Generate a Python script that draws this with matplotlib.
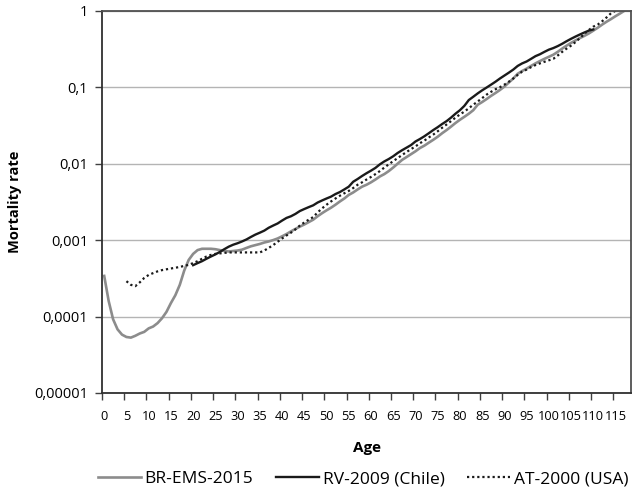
import numpy as np
import matplotlib
matplotlib.use("Agg")
import matplotlib.pyplot as plt
from matplotlib.ticker import FixedLocator, NullLocator

plt.rcParams["font.family"] = ["Open Sans", "DejaVu Sans"]

# BR-EMS-2015 (grey), ages 0..117
br_ages = list(range(0, 118))
br_q = [3.4e-4, 1.6e-4, 9.2e-5, 6.8e-5, 5.8e-5, 5.4e-5, 5.3e-5, 5.6e-5, 6.0e-5, 6.3e-5,
        7.0e-5, 7.4e-5, 8.2e-5, 9.5e-5, 1.15e-4, 1.5e-4, 1.9e-4, 2.6e-4, 4.0e-4, 5.5e-4,
        6.6e-4, 7.4e-4, 7.7e-4, 7.7e-4, 7.7e-4, 7.6e-4, 7.4e-4, 7.2e-4, 7.1e-4, 7.2e-4,
        7.3e-4, 7.5e-4, 7.9e-4, 8.3e-4, 8.6e-4, 8.9e-4, 9.3e-4, 9.6e-4, 1.0e-3, 1.05e-3,
        1.12e-3, 1.2e-3, 1.3e-3, 1.4e-3, 1.5e-3, 1.6e-3, 1.72e-3, 1.85e-3, 2.05e-3, 2.25e-3,
        2.45e-3, 2.65e-3, 2.9e-3, 3.2e-3, 3.5e-3, 3.9e-3, 4.2e-3, 4.6e-3, 5.0e-3, 5.3e-3,
        5.7e-3, 6.2e-3, 6.8e-3, 7.3e-3, 8.0e-3, 8.9e-3, 1.0e-2, 1.12e-2, 1.22e-2, 1.33e-2,
        1.45e-2, 1.6e-2, 1.72e-2, 1.88e-2, 2.05e-2, 2.25e-2, 2.5e-2, 2.75e-2, 3.05e-2, 3.4e-2,
        3.75e-2, 4.1e-2, 4.5e-2, 5.0e-2, 5.9e-2, 6.4e-2, 7.0e-2, 7.7e-2, 8.4e-2, 9.2e-2,
        0.102, 0.115, 0.13, 0.15, 0.163, 0.175, 0.19, 0.205, 0.22, 0.235,
        0.25, 0.266, 0.29, 0.32, 0.35, 0.38, 0.41, 0.44, 0.47, 0.505,
        0.55, 0.6, 0.66, 0.72, 0.78, 0.85, 0.92, 1.0]

# RV-2009 Chile (black), ages 20..110
rv_ages = list(range(20, 111))
rv_q = [4.7e-4, 5.0e-4, 5.3e-4, 5.7e-4, 6.1e-4, 6.5e-4, 7.0e-4, 7.6e-4, 8.2e-4, 8.7e-4,
        9.1e-4, 9.6e-4, 1.02e-3, 1.1e-3, 1.18e-3, 1.25e-3, 1.33e-3, 1.45e-3, 1.55e-3, 1.65e-3,
        1.8e-3, 1.95e-3, 2.05e-3, 2.2e-3, 2.4e-3, 2.55e-3, 2.7e-3, 2.85e-3, 3.1e-3, 3.3e-3,
        3.5e-3, 3.7e-3, 4.0e-3, 4.25e-3, 4.6e-3, 5.0e-3, 5.8e-3, 6.3e-3, 6.9e-3, 7.5e-3,
        8.1e-3, 8.8e-3, 9.8e-3, 1.07e-2, 1.15e-2, 1.25e-2, 1.38e-2, 1.5e-2, 1.62e-2, 1.75e-2,
        1.95e-2, 2.1e-2, 2.28e-2, 2.5e-2, 2.75e-2, 3.0e-2, 3.3e-2, 3.6e-2, 4.0e-2, 4.5e-2,
        5.0e-2, 5.7e-2, 6.8e-2, 7.5e-2, 8.3e-2, 9.1e-2, 9.9e-2, 0.108, 0.118, 0.13,
        0.142, 0.155, 0.17, 0.19, 0.205, 0.217, 0.235, 0.255, 0.27, 0.29,
        0.31, 0.325, 0.345, 0.37, 0.40, 0.43, 0.46, 0.49, 0.52, 0.55,
        0.57]

# AT-2000 USA (dotted), ages 5..115
at_ages = list(range(5, 116))
at_q = [2.9e-4, 2.6e-4, 2.5e-4, 2.8e-4, 3.2e-4, 3.5e-4, 3.7e-4, 3.9e-4, 4.05e-4, 4.15e-4,
        4.25e-4, 4.35e-4, 4.45e-4, 4.6e-4, 4.75e-4, 5.0e-4, 5.3e-4, 5.7e-4, 6.1e-4, 6.4e-4,
        6.6e-4, 6.7e-4, 6.8e-4, 6.9e-4, 6.9e-4, 6.9e-4, 6.9e-4, 6.9e-4, 6.9e-4, 6.9e-4,
        6.9e-4, 7.3e-4, 7.9e-4, 8.6e-4, 9.5e-4, 1.05e-3, 1.15e-3, 1.25e-3, 1.38e-3, 1.55e-3,
        1.7e-3, 1.85e-3, 2.0e-3, 2.3e-3, 2.6e-3, 2.9e-3, 3.2e-3, 3.5e-3, 3.8e-3, 4.1e-3,
        4.4e-3, 4.8e-3, 5.3e-3, 5.7e-3, 6.2e-3, 6.7e-3, 7.3e-3, 8.0e-3, 8.9e-3, 9.8e-3,
        1.08e-2, 1.18e-2, 1.3e-2, 1.42e-2, 1.55e-2, 1.68e-2, 1.85e-2, 2.0e-2, 2.2e-2, 2.4e-2,
        2.65e-2, 2.95e-2, 3.25e-2, 3.6e-2, 4.0e-2, 4.4e-2, 4.8e-2, 5.3e-2, 5.9e-2, 6.5e-2,
        7.2e-2, 8.0e-2, 8.7e-2, 9.4e-2, 0.1, 0.108, 0.118, 0.13, 0.145, 0.16,
        0.17, 0.183, 0.195, 0.205, 0.215, 0.225, 0.235, 0.26, 0.29, 0.32,
        0.35, 0.39, 0.44, 0.5, 0.56, 0.62, 0.66, 0.73, 0.82, 0.93,
        1.0]

xtick_ages = list(range(0, 120, 5))
ytick_vals = [1e-5, 1e-4, 1e-3, 1e-2, 1e-1, 1]
ytick_labels = ["0,00001", "0,0001", "0,001", "0,01", "0,1", "1"]

fig = plt.figure(figsize=(6.39, 4.97), dpi=100)
ax = fig.add_axes([0.1596, 0.2093, 0.828, 0.769])

ax.plot(br_ages, br_q, color="#8c8c8c", lw=1.9, label="BR-EMS-2015", solid_joinstyle="round")
ax.plot(rv_ages, rv_q, color="#1a1a1a", lw=1.7, label="RV-2009 (Chile)", solid_joinstyle="round")
ax.plot(at_ages, at_q, color="#1a1a1a", lw=1.6, linestyle=(0, (1, 1.3)),
        dash_capstyle="butt", label="AT-2000 (USA)")

ax.set_yscale("log")
ax.set_ylim(1e-5, 1)
ax.set_xlim(-0.5, 118.5)
ax.yaxis.set_major_locator(FixedLocator(ytick_vals))
ax.yaxis.set_minor_locator(NullLocator())
ax.set_yticklabels(ytick_labels, fontsize=10.5)
ax.grid(axis="y", color="#b4b4b4", lw=1)
ax.set_axisbelow(True)

ax.set_xticks(xtick_ages)
ax.set_xticklabels([str(a) for a in xtick_ages], fontsize=9.2)
ax.set_xticks([a - 0.5 for a in xtick_ages], minor=True)
ax.tick_params(axis="x", which="major", length=0, pad=12)
ax.tick_params(axis="x", which="minor", length=5, width=1, color="#404040")
ax.tick_params(axis="y", length=5, width=1, color="#404040", pad=5)

for side in ["left", "bottom"]:
    ax.spines[side].set_color("#303030")
    ax.spines[side].set_linewidth(1.3)
for side in ["top", "right"]:
    ax.spines[side].set_color("#505050")
    ax.spines[side].set_linewidth(1.3)

ax.set_xlabel("Age", fontsize=11, fontweight="bold", labelpad=13)
ax.set_ylabel("Mortality rate", fontsize=10.5, fontweight="bold", labelpad=9)

fig.legend(loc="lower center", bbox_to_anchor=(0.568, -0.012), ncol=3, frameon=False,
           fontsize=12.5, handlelength=2.5, handletextpad=0.2, columnspacing=1.3)

fig.savefig("out.png", dpi=100)
